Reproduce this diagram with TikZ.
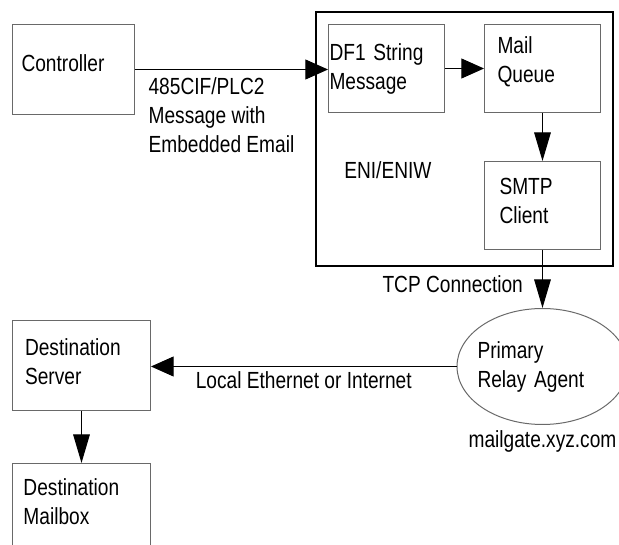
\documentclass[tikz,border=0pt]{standalone}
\usepackage{fontspec}
\setmainfont{Liberation Sans}[FakeStretch=0.82]
\usepackage{tikz}
\usetikzlibrary{shapes.geometric, arrows.meta, positioning, fit, calc}
\definecolor{boxgray}{RGB}{105,105,105}

\begin{document}
\begin{tikzpicture}[
    font=\fontsize{17.5pt}{21.75pt}\selectfont,
    box/.style={rectangle, draw=boxgray, line width=0.75pt, minimum height=66pt, text depth=29.25pt, align=left},
    relay/.style={ellipse, draw=boxgray, line width=0.75pt, minimum width=128.25pt, minimum height=87pt, inner sep=-20pt, text width=97.5pt, align=left},
    frame/.style={rectangle, draw, line width=1.5pt, inner sep=9pt},
    harr/.style={-{Triangle[length=17pt, width=15pt]}, line width=0.75pt},
    varr/.style={-{Triangle[length=21.5pt, width=12.5pt]}, line width=0.75pt},
]
\useasboundingbox (0,0) rectangle (464.25pt,-408.75pt);
\clip (0,0) rectangle (464.25pt,-408.75pt);

\node[box, minimum height=67.5pt, text depth=9pt, inner xsep=6.75pt, text width=78pt, anchor=north west] (controller) at (9pt,-18pt) {Controller};
\node[box, text depth=24.75pt, inner xsep=0.75pt, text width=85.5pt, right=144.75pt of controller.north east, anchor=north west] (df1) {DF1 String\\Message};
\node[box, text depth=35.25pt, inner xsep=9.75pt, text width=67.5pt, right=29.25pt of df1] (mailq) {Mail\\Queue};
\node[box, inner xsep=11.25pt, text width=64.5pt, below=36pt of mailq] (smtp) {SMTP\\Client};
\coordinate[below=3pt of smtp.south] (smtpgap);
\node[frame, fit=(df1)(mailq)(smtp)(smtpgap)] (eni) {};
\node[below right=33pt and 8.7pt of df1.south west] (enilabel) {ENI/ENIW};

\node[relay, below=43.5pt of smtp] (agent) {Primary\\Relay Agent};
\node[below=1pt of agent] (host) {mailgate.xyz.com};

\node[box, minimum height=67.5pt, text depth=27.75pt, inner xsep=9.4pt, text width=84.7pt, below=153.75pt of controller.south west, anchor=north west] (dserver) {Destination\\Server};
\node[box, minimum height=67.5pt, text depth=32.75pt, inner xsep=8.25pt, text width=87pt, below=39pt of dserver] (dmailbox) {Destination\\Mailbox};

\draw[harr] (controller.east) -- (controller.east -| df1.west) node[pos=0, below right, xshift=6.5pt, yshift=-2pt, align=left] {485CIF/PLC2\\Message with\\Embedded Email};
\draw[harr] (df1) -- (mailq);
\draw[varr] (mailq) -- (smtp);
\draw[varr] (smtp) -- (agent) node[midway, left=11pt, yshift=-3.75pt] {TCP Connection};
\draw[harr] (agent.west) -- (agent.west -| dserver.east) node[midway, below] {Local Ethernet or Internet};
\draw[varr] (dserver) -- (dmailbox);
\end{tikzpicture}
\end{document}
